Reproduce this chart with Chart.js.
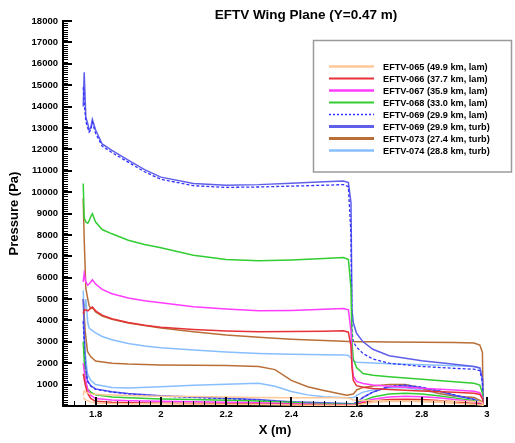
<!DOCTYPE html>
<html>
<head>
<meta charset="utf-8">
<title>EFTV Wing Plane</title>
<script src="https://cdn.jsdelivr.net/npm/chart.js@4.4.1/dist/chart.umd.min.js"></script>
<style>
  body { margin: 0; background: #fff; }
  #wrap { width: 515px; height: 443px; }
</style>
</head>
<body>
<div id="wrap"><canvas id="myChart" width="515" height="443"></canvas></div>
<script>
// x stations, windward side (leading edge -> trailing edge)
const upperX = [1.762, 1.765, 1.770, 1.776, 1.780, 1.785, 1.790, 1.800, 1.820, 1.850, 1.900, 1.950, 2.000, 2.100, 2.200, 2.300,
                2.400, 2.500, 2.560, 2.575, 2.583, 2.586, 2.590, 2.600, 2.620, 2.650, 2.700, 2.800, 2.900, 2.960, 2.978, 2.986];
// x stations, leeward side (trailing edge -> leading edge)
const lowerX = [2.988, 2.980, 2.960, 2.900, 2.850, 2.800, 2.750, 2.700, 2.650, 2.620, 2.600, 2.598, 2.590, 2.570, 2.500,
                2.450, 2.400, 2.350, 2.300, 2.200, 2.100, 2.000, 1.900, 1.850, 1.800, 1.785, 1.775, 1.768, 1.762];

// pressure (Pa)
const p065Upper = [500, 700, 650, 600, 580, 570, 560, 550, 530, 510, 490, 470, 460, 440, 420, 400,
                   390, 380, 380, 370, 330, 300, 280, 270, 260, 250, 240, 230, 220, 210, 200, 150];
const p065Lower = [30, 50, 80, 130, 170, 200, 220, 210, 170, 110, 40, 30, 30, 30, 30,
                   40, 50, 60, 70, 80, 90, 100, 110, 120, 140, 180, 250, 300, 400];
const p066Upper = [4300, 4480, 4500, 4450, 4500, 4580, 4630, 4450, 4250, 4080, 3900, 3780, 3680, 3580, 3510, 3470,
                   3480, 3500, 3520, 3450, 2800, 1800, 1200, 950, 880, 820, 770, 700, 640, 600, 540, 350];
const p066Lower = [50, 80, 120, 200, 260, 300, 320, 300, 230, 150, 60, 50, 40, 40, 50,
                   60, 70, 80, 90, 110, 120, 130, 150, 170, 220, 350, 600, 1000, 1500];
const p067Upper = [5800, 6200, 5800, 5650, 5700, 5800, 5900, 5700, 5450, 5250, 5050, 4920, 4830, 4640, 4530, 4450,
                   4470, 4520, 4560, 4500, 3500, 2000, 1400, 1150, 1050, 980, 920, 830, 750, 690, 620, 400];
const p067Lower = [80, 120, 200, 300, 380, 430, 450, 420, 320, 200, 90, 80, 60, 60, 70,
                   90, 110, 130, 150, 180, 200, 220, 250, 280, 350, 500, 800, 1300, 2000];
const p068Upper = [10400, 8800, 8600, 8550, 8650, 8850, 8990, 8600, 8250, 8050, 7750, 7550, 7400, 7050, 6850, 6790,
                   6830, 6900, 6940, 6850, 5500, 3000, 2200, 1800, 1520, 1440, 1370, 1250, 1130, 1060, 980, 600];
const p068Lower = [100, 150, 250, 380, 480, 560, 600, 560, 420, 250, 120, 100, 80, 80, 100,
                   130, 170, 200, 230, 270, 300, 330, 380, 420, 520, 650, 800, 1200, 3000];
const p069LamUpper = [14900, 14200, 13300, 13000, 12800, 12900, 13250, 12750, 12150, 11850, 11400, 10950, 10600, 10300, 10220, 10240,
                      10280, 10320, 10350, 10250, 8000, 3500, 3000, 2750, 2450, 2200, 2000, 1850, 1760, 1720, 1650, 1100];
const p069LamLower = [100, 150, 300, 520, 720, 880, 980, 920, 650, 400, 150, 150, 100, 100, 120,
                      150, 180, 220, 280, 340, 400, 460, 560, 650, 780, 930, 1150, 1800, 4000];
const p069TurbUpper = [14000, 15600, 13500, 13200, 12900, 13000, 13400, 12900, 12250, 11950, 11500, 11050, 10700, 10400, 10320, 10350,
                       10420, 10480, 10520, 10450, 9500, 4500, 3900, 3400, 3000, 2650, 2350, 2120, 1950, 1850, 1780, 1300];
const p069TurbLower = [100, 150, 300, 500, 700, 850, 950, 900, 650, 400, 150, 150, 100, 120, 150,
                       180, 200, 250, 300, 360, 420, 480, 580, 670, 800, 950, 1200, 2000, 5000];
const p073Upper = [9700, 7800, 5500, 5000, 4700, 4550, 4600, 4400, 4200, 4050, 3880, 3760, 3650, 3470, 3320, 3210,
                   3120, 3060, 3030, 3020, 3010, 3010, 3010, 3000, 3000, 3000, 2990, 2980, 2970, 2940, 2850, 2500];
const p073Lower = [100, 250, 400, 470, 590, 830, 1000, 1000, 930, 870, 750, 700, 560, 500, 720,
                   900, 1200, 1700, 1850, 1890, 1900, 1920, 1960, 2000, 2100, 2300, 2550, 3500, 5000];
const p074Upper = [5400, 4300, 5000, 3900, 3650, 3580, 3520, 3420, 3250, 3100, 2920, 2800, 2720, 2620, 2530, 2460,
                   2420, 2400, 2390, 2360, 2250, 2150, 2100, 2050, 2030, 2010, 1980, 1930, 1880, 1850, 1780, 1300];
const p074Lower = [100, 200, 350, 450, 600, 750, 850, 850, 750, 650, 500, 450, 400, 380, 430,
                   520, 680, 920, 1060, 1020, 970, 900, 840, 860, 1000, 1200, 1500, 2500, 4000];

const seriesLabels = [
  'EFTV-065 (49.9 km, lam)',
  'EFTV-066 (37.7 km, lam)',
  'EFTV-067 (35.9 km, lam)',
  'EFTV-068 (33.0 km, lam)',
  'EFTV-069 (29.9 km, lam)',
  'EFTV-069 (29.9 km, turb)',
  'EFTV-073 (27.4 km, turb)',
  'EFTV-074 (28.8 km, turb)'
];
const xTicks = [1.8, 2, 2.2, 2.4, 2.6, 2.8, 3];
const yTicks = [1000, 2000, 3000, 4000, 5000, 6000, 7000, 8000, 9000, 10000, 11000, 12000, 13000, 14000, 15000, 16000, 17000, 18000];

const FONT = 'Liberation Sans, Arial, sans-serif';

function loop(pu, pl) {
  return upperX.map((x, i) => ({x: x, y: pu[i]}))
    .concat(lowerX.map((x, i) => ({x: x, y: pl[i]})));
}

const datasets = [
  {label: seriesLabels[0], data: loop(p065Upper, p065Lower), borderColor: 'rgb(255, 200, 150)', borderWidth: 1.5, legendWidth: 2.5},
  {label: seriesLabels[1], data: loop(p066Upper, p066Lower), borderColor: 'rgb(230, 50, 55)', borderWidth: 1.5, legendWidth: 2},
  {label: seriesLabels[2], data: loop(p067Upper, p067Lower), borderColor: 'rgb(255, 60, 255)', borderWidth: 1.5, legendWidth: 2.5},
  {label: seriesLabels[3], data: loop(p068Upper, p068Lower), borderColor: 'rgb(50, 205, 50)', borderWidth: 1.5, legendWidth: 2},
  {label: seriesLabels[4], data: loop(p069LamUpper, p069LamLower), borderColor: 'rgb(50, 50, 255)', borderWidth: 1.3, borderDash: [3, 2], legendWidth: 1.5},
  {label: seriesLabels[5], data: loop(p069TurbUpper, p069TurbLower), borderColor: 'rgb(95, 95, 235)', borderWidth: 1.5, legendWidth: 3},
  {label: seriesLabels[6], data: loop(p073Upper, p073Lower), borderColor: 'rgb(185, 110, 55)', borderWidth: 1.5, legendWidth: 3},
  {label: seriesLabels[7], data: loop(p074Upper, p074Lower), borderColor: 'rgb(135, 190, 255)', borderWidth: 1.5, legendWidth: 2.5}
];
datasets.forEach(d => { d.showLine = true; d.fill = false; d.pointRadius = 0; });

// tick marks pointing into the plot, with minor ticks
const insideTicks = {
  id: 'insideTicks',
  afterDraw(chart) {
    const {ctx, chartArea: a, scales: {x, y}} = chart;
    ctx.save();
    ctx.strokeStyle = '#000';
    ctx.lineWidth = 1;
    ctx.beginPath();
    for (let k = 0; k <= 180; k++) {
      if (k % 10 === 0) continue;
      const py = Math.round(y.getPixelForValue(k * 100)) + 0.5;
      ctx.moveTo(a.left, py); ctx.lineTo(a.left + 5, py);
    }
    for (let k = 0; k <= 39; k++) {
      if ((k - 3) % 6 === 0) continue;
      const px = Math.round(x.getPixelForValue(1.7 + k / 30)) + 0.5;
      ctx.moveTo(px, a.bottom); ctx.lineTo(px, a.bottom - 5);
    }
    ctx.stroke();
    ctx.lineWidth = 2;
    ctx.beginPath();
    yTicks.forEach(v => {
      const py = Math.round(y.getPixelForValue(v));
      ctx.moveTo(a.left, py); ctx.lineTo(a.left + 9, py);
    });
    xTicks.forEach(v => {
      const px = Math.round(x.getPixelForValue(v));
      ctx.moveTo(px, a.bottom + 1); ctx.lineTo(px, a.bottom - 9);
    });
    ctx.stroke();
    ctx.restore();
  }
};

// boxed legend inside the plot
const boxLegend = {
  id: 'boxLegend',
  afterDraw(chart) {
    const ctx = chart.ctx;
    ctx.save();
    ctx.fillStyle = '#fff';
    ctx.fillRect(313.5, 40.5, 198, 131.5);
    ctx.strokeStyle = '#9a9a9a';
    ctx.lineWidth = 1.5;
    ctx.strokeRect(313.5, 40.5, 198, 131.5);
    chart.data.datasets.forEach((ds, i) => {
      const y = 66.5 + i * 12;
      ctx.strokeStyle = ds.borderColor;
      ctx.lineWidth = ds.legendWidth;
      ctx.setLineDash(ds.borderDash ? [2, 2] : []);
      ctx.beginPath(); ctx.moveTo(329, y); ctx.lineTo(374, y); ctx.stroke();
      ctx.setLineDash([]);
      ctx.fillStyle = '#000';
      ctx.font = 'bold 9.2px ' + FONT;
      ctx.textBaseline = 'middle';
      ctx.textAlign = 'left';
      ctx.fillText(ds.label, 383, y + 0.5);
    });
    ctx.restore();
  }
};

const plotTitle = {
  id: 'plotTitle',
  afterDraw(chart) {
    const ctx = chart.ctx;
    ctx.save();
    ctx.fillStyle = '#000';
    ctx.font = 'bold 13.5px ' + FONT;
    ctx.textAlign = 'center';
    ctx.textBaseline = 'middle';
    ctx.fillText('EFTV Wing Plane (Y=0.47 m)', 306, 15);
    ctx.restore();
  }
};

const config = {
  type: 'scatter',
  data: {datasets: datasets},
  options: {
    responsive: false,
    animation: false,
    devicePixelRatio: 1,
    layout: {padding: {top: 21, right: 28, left: 0, bottom: 0}},
    elements: {line: {tension: 0}, point: {radius: 0}},
    plugins: {
      legend: {display: false},
      tooltip: {enabled: false},
      title: {display: false}
    },
    scales: {
      x: {
        type: 'linear',
        min: 1.7,
        max: 3.0,
        afterBuildTicks: s => { s.ticks = xTicks.map(v => ({value: v})); },
        afterFit: s => { s.height = 37; },
        ticks: {
          autoSkip: false, maxRotation: 0, padding: 3, color: '#000',
          font: {family: FONT, size: 9.5, weight: 'bold'},
          callback: v => String(v)
        },
        grid: {drawOnChartArea: false, drawTicks: false},
        border: {display: true, color: '#000', width: 2},
        title: {
          display: true, text: 'X (m)', color: '#000',
          font: {family: FONT, size: 13, weight: 'bold'},
          padding: {top: 0, bottom: 4.5}
        }
      },
      y: {
        type: 'linear',
        min: 0,
        max: 18000,
        afterBuildTicks: s => { s.ticks = yTicks.map(v => ({value: v})); },
        afterFit: s => { s.width = 63; },
        ticks: {
          autoSkip: false, padding: 5, color: '#000',
          font: {family: FONT, size: 9.5, weight: 'bold'},
          callback: v => String(v)
        },
        grid: {drawOnChartArea: false, drawTicks: false},
        border: {display: true, color: '#000', width: 2},
        title: {
          display: true, text: 'Pressure (Pa)', color: '#000',
          font: {family: FONT, size: 13, weight: 'bold'},
          padding: {top: 7, bottom: 0}
        }
      }
    }
  },
  plugins: [insideTicks, boxLegend, plotTitle]
};

const myChart = new Chart(document.getElementById('myChart'), config);
</script>
</body>
</html>
